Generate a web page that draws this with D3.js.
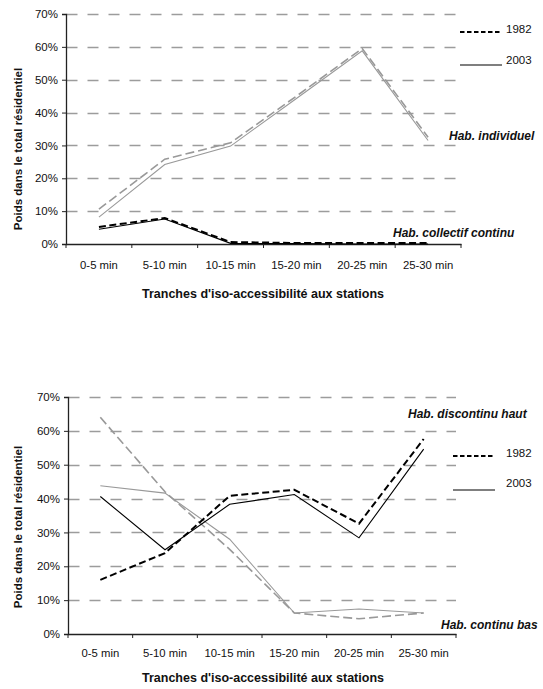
<!DOCTYPE html>
<html>
<head>
<meta charset="utf-8">
<script src="https://cdn.jsdelivr.net/npm/d3@7"></script>
<style>
  html, body { margin: 0; padding: 0; background: #fff; }
  svg { display: block; }
  text { font-family: "Liberation Sans", Arial, sans-serif; }
</style>
</head>
<body>
<svg id="chart" width="543" height="689"></svg>
<script>
// ---- Data ----
const categories = ["0-5 min", "5-10 min", "10-15 min", "15-20 min", "20-25 min", "25-30 min"];
const yTicks = [0, 10, 20, 30, 40, 50, 60, 70];

// Top chart
const indiv1982 = [10.6, 25.8, 30.8, 45.0, 59.5, 32.5];
const indiv2003 = [8.2, 24.2, 29.8, 44.3, 58.8, 31.5];
const collectif1982 = [5.2, 7.9, 0.6, 0.3, 0.3, 0.3];
const collectif2003 = [4.5, 7.6, 0.2, 0.1, 0.0, 0.0];

// Bottom chart
const discHaut1982 = [16.0, 23.9, 40.8, 42.6, 32.6, 57.6];
const discHaut2003 = [40.6, 24.9, 38.3, 41.2, 28.4, 54.6];
const contBas1982 = [64.0, 42.0, 25.0, 6.2, 4.5, 6.2];
const contBas2003 = [43.8, 41.6, 28.0, 6.2, 7.4, 6.2];

const legendYears = ["1982", "2003"];
const yTitle = "Poids dans le total résidentiel";
const xTitle = "Tranches d'iso-accessibilité aux stations";

const svg = d3.select("#chart");

const styles = {
  gray1982: { stroke: "#999", width: 1.6, dash: "9,4" },
  gray2003: { stroke: "#999", width: 1.1, dash: null },
  black1982: { stroke: "#000", width: 2, dash: "7,3.5" },
  black2003: { stroke: "#000", width: 1.1, dash: null }
};

function drawPanel(cfg) {
  const g = svg.append("g");
  const x = d3.scaleBand().domain(categories).range([cfg.left, cfg.right]).padding(0);
  const y = d3.scaleLinear().domain([0, 70]).range([cfg.bottom, cfg.top]);

  // gridlines
  g.append("g").selectAll("line").data(yTicks.filter(t => t > 0)).join("line")
    .attr("x1", cfg.left + 0.5).attr("x2", cfg.right)
    .attr("y1", d => Math.round(y(d)) + 0.5).attr("y2", d => Math.round(y(d)) + 0.5)
    .attr("stroke", "#9c9c9c").attr("stroke-width", 1.3)
    .attr("stroke-dasharray", "11,10");

  // y axis
  const yAxis = d3.axisLeft(y).tickValues(yTicks).tickFormat(d => d + "%").tickSize(4).tickPadding(4);
  const ya = g.append("g").attr("transform", `translate(${cfg.left},0)`).call(yAxis);
  ya.select(".domain").attr("stroke", "#222").attr("stroke-width", 1.3);
  ya.selectAll(".tick line").attr("stroke", "#222");
  ya.selectAll(".tick text").attr("font-size", 11.5).attr("fill", "#111")
    .style("font-family", "'Liberation Sans', Arial, sans-serif");

  // x axis
  const xAxis = d3.axisBottom(x).tickSize(0).tickPadding(cfg.xLabelPad);
  const xa = g.append("g").attr("transform", `translate(0,${cfg.bottom})`).call(xAxis);
  xa.select(".domain").attr("stroke", "#222").attr("stroke-width", 1.3);
  xa.selectAll(".tick text").attr("font-size", 11.3).attr("fill", "#111")
    .style("font-family", "'Liberation Sans', Arial, sans-serif");
  // boundary tick marks
  const bounds = categories.map(c => x(c)).concat([x(categories[categories.length - 1]) + x.bandwidth()]);
  g.append("g").selectAll("line").data(bounds).join("line")
    .attr("x1", d => d).attr("x2", d => d)
    .attr("y1", cfg.bottom).attr("y2", cfg.bottom + 4)
    .attr("stroke", "#222").attr("stroke-width", 1);

  // series
  const line = d3.line()
    .x((d, i) => x(categories[i]) + x.bandwidth() / 2)
    .y(d => y(d));
  cfg.series.forEach(s => {
    const st = styles[s.style];
    g.append("path").datum(s.values)
      .attr("d", line).attr("fill", "none")
      .attr("stroke", st.stroke).attr("stroke-width", st.width)
      .attr("stroke-dasharray", st.dash);
  });

  // axis titles
  g.append("text")
    .attr("transform", `translate(${cfg.yTitleX},${cfg.yTitleY}) rotate(-90)`)
    .attr("text-anchor", "middle").attr("font-size", 11.5).attr("font-weight", "bold")
    .attr("fill", "#111").text(yTitle);
  g.append("text")
    .attr("x", cfg.xTitleX).attr("y", cfg.xTitleY)
    .attr("text-anchor", "middle").attr("font-size", 12.5).attr("font-weight", "bold")
    .attr("fill", "#111").text(xTitle);

  // legend
  legendYears.forEach((yr, i) => {
    const ly = cfg.legend.ys[i];
    g.append("line")
      .attr("x1", cfg.legend.x1).attr("x2", cfg.legend.x2)
      .attr("y1", ly).attr("y2", ly)
      .attr("stroke", "#000")
      .attr("stroke-width", i === 0 ? 2 : 1.1)
      .attr("stroke-dasharray", i === 0 ? "4.5,2.5" : null);
    g.append("text")
      .attr("x", cfg.legend.tx).attr("y", cfg.legend.tys[i])
      .attr("dominant-baseline", "middle")
      .attr("font-size", 11.5).attr("fill", "#111").text(yr);
  });

  // series group labels
  cfg.labels.forEach(l => {
    g.append("text").attr("x", l.x).attr("y", l.y)
      .attr("font-size", 12).attr("font-weight", "bold").attr("font-style", "italic")
      .attr("fill", "#111").text(l.text);
  });
}

drawPanel({
  left: 66, right: 461, top: 14, bottom: 244,
  xLabelPad: 17, yTitleX: 22, yTitleY: 149, xTitleX: 263, xTitleY: 298,
  series: [
    { values: indiv1982, style: "gray1982" },
    { values: indiv2003, style: "gray2003" },
    { values: collectif1982, style: "black1982" },
    { values: collectif2003, style: "black2003" }
  ],
  legend: { x1: 460, x2: 502, ys: [32, 65], tx: 506, tys: [30, 61] },
  labels: [
    { text: "Hab. individuel", x: 449, y: 140 },
    { text: "Hab. collectif continu", x: 393, y: 237 }
  ]
});

drawPanel({
  left: 68, right: 456, top: 397, bottom: 634,
  xLabelPad: 15, yTitleX: 22, yTitleY: 527, xTitleX: 263, xTitleY: 682,
  series: [
    { values: contBas1982, style: "gray1982" },
    { values: contBas2003, style: "gray2003" },
    { values: discHaut1982, style: "black1982" },
    { values: discHaut2003, style: "black2003" }
  ],
  legend: { x1: 453, x2: 495, ys: [456, 490], tx: 506, tys: [454, 484] },
  labels: [
    { text: "Hab. discontinu haut", x: 408, y: 418 },
    { text: "Hab. continu bas", x: 441, y: 629 }
  ]
});
</script>
</body>
</html>
